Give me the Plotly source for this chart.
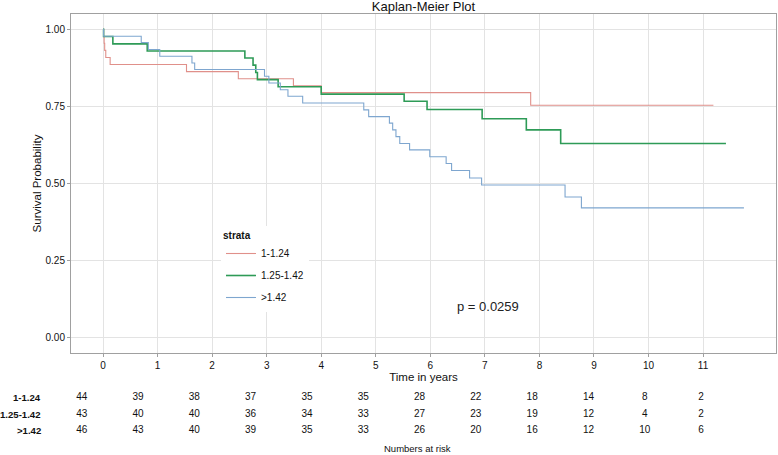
import plotly.graph_objects as go

# ---- data ----
strata = ["1-1.24", "1.25-1.42", ">1.42"]
colors = ["#E0908A", "#2E9B57", "#7EA6CF"]
widths = [1.1, 1.6, 1.1]

red_t = [0, 0.01, 0.02, 0.03, 0.05, 0.13, 1.53, 2.48, 3.49, 4.00, 7.84, 11.19]
red_s = [1.0, 0.977, 0.955, 0.932, 0.909, 0.886, 0.863, 0.840, 0.817, 0.795, 0.754, 0.754]

green_t = [0, 0.01, 0.18, 0.81, 2.60, 2.75, 2.80, 2.83, 3.21, 4.00, 5.52, 5.94, 6.95, 7.76, 8.39, 11.42]
green_s = [1.0, 0.977, 0.953, 0.930, 0.907, 0.884, 0.860, 0.837, 0.814, 0.790, 0.767, 0.740, 0.710, 0.674, 0.630, 0.630]

blue_t = [0, 0.01, 0.70, 0.83, 1.04, 1.63, 1.68, 2.96, 3.04, 3.25, 3.39, 3.66, 4.78, 4.87,
          5.25, 5.31, 5.37, 5.44, 5.62, 5.99, 6.29, 6.39, 6.72, 6.94, 8.47, 8.77, 11.75]
blue_s = [1.0, 0.978, 0.957, 0.935, 0.913, 0.891, 0.870, 0.848, 0.826, 0.804, 0.783, 0.761, 0.739, 0.717,
          0.696, 0.674, 0.652, 0.630, 0.609, 0.587, 0.565, 0.542, 0.518, 0.495, 0.456, 0.421, 0.421]

risk_times = list(range(12))
risk_1 = [44, 39, 38, 37, 35, 35, 28, 22, 18, 14, 8, 2]
risk_2 = [43, 40, 40, 36, 34, 33, 27, 23, 19, 12, 4, 2]
risk_3 = [46, 43, 40, 39, 35, 33, 26, 20, 16, 12, 10, 6]

p_text = "p = 0.0259"
p_x, p_y = 7.05, 0.10

curves = [(red_t, red_s), (green_t, green_s), (blue_t, blue_s)]
risks = [risk_1, risk_2, risk_3]

# ---- figure ----
W, H = 778, 455
ml, mr, mt, mb = 71, 2, 14, 2
pw = W - ml - mr
ph = H - mt - mb
main_bottom = (453 - 353) / ph

fig = go.Figure()
for i, (name, (t, s)) in enumerate(zip(strata, curves)):
    fig.add_trace(go.Scatter(
        x=t, y=s, mode="lines", line=dict(shape="hv", color=colors[i], width=widths[i]),
        name=name, legendgroup=name, xaxis="x", yaxis="y",
    ))

rows = [3, 2, 1]
for i, name in enumerate(strata):
    fig.add_trace(go.Scatter(
        x=risk_times, y=[rows[i]] * len(risk_times), mode="text",
        text=[str(v) for v in risks[i]], textfont=dict(size=10, color="#111111"),
        showlegend=False, xaxis="x2", yaxis="y2", hoverinfo="skip",
    ))

annotations = []
for i, name in enumerate(strata):
    annotations.append(dict(
        text="<b>%s</b>" % name, xref="paper", yref="y2", x=(42.5 - ml) / pw, y=rows[i],
        xanchor="right", yanchor="middle", showarrow=False, font=dict(size=9.6, color="#111111"),
    ))
annotations.append(dict(
    text=p_text, xref="x", yref="y", x=p_x, y=p_y, showarrow=False,
    font=dict(size=13, color="#222222"), xanchor="center", yanchor="middle",
))
annotations.append(dict(
    text="Numbers at risk", xref="paper", yref="paper", x=(417.5 - ml) / pw,
    y=(453 - 448.3) / ph, showarrow=False, font=dict(size=9.5, color="#111111"),
    xanchor="center", yanchor="middle",
))

fig.update_layout(
    width=W, height=H,
    margin=dict(l=ml, r=mr, t=mt, b=mb),
    paper_bgcolor="white", plot_bgcolor="white",
    font=dict(family="Liberation Sans, Arial, sans-serif", color="#111111"),
    title=dict(text="Kaplan-Meier Plot", x=423.5 / W, xanchor="center",
               y=1 - 6.5 / H, yanchor="middle", yref="container",
               font=dict(size=13, color="#111111")),
    xaxis=dict(
        domain=[0, 1], anchor="y", range=[-0.5875, 12.3375],
        tickmode="array", tickvals=list(range(12)), ticktext=[str(v) for v in range(12)],
        showgrid=True, gridcolor="#E3E3E3", gridwidth=1, zeroline=False,
        showline=True, mirror=True, linecolor="#A0A0A0", linewidth=1,
        ticks="outside", ticklen=3, tickcolor="#A0A0A0",
        tickfont=dict(size=10, color="#111111"),
        title=dict(text="Time in years", font=dict(size=11.5, color="#111111"), standoff=2),
    ),
    yaxis=dict(
        domain=[main_bottom, 1], anchor="x", range=[-0.05, 1.05],
        tickmode="array", tickvals=[0, 0.25, 0.5, 0.75, 1.0],
        ticktext=["0.00", "0.25", "0.50", "0.75", "1.00"],
        showgrid=True, gridcolor="#E3E3E3", gridwidth=1, zeroline=False,
        showline=True, mirror=True, linecolor="#A0A0A0", linewidth=1,
        ticks="outside", ticklen=3, tickcolor="#A0A0A0",
        tickfont=dict(size=10, color="#111111"),
        title=dict(text="Survival Probability", font=dict(size=11.5, color="#111111"), standoff=1),
    ),
    xaxis2=dict(domain=[0, 1], anchor="y2", range=[-0.19, 12.33], visible=False),
    yaxis2=dict(domain=[0, main_bottom - 0.001], anchor="x2", range=[-0.335, 5.65], visible=False),
    showlegend=True,
    legend=dict(
        x=(221 - ml) / pw, y=1 - (226 - mt) / ph, xanchor="left", yanchor="top",
        bgcolor="white", borderwidth=0, tracegroupgap=3,
        font=dict(size=10, color="#111111"),
        title=dict(text="<b>strata</b>", font=dict(size=10, color="#111111")),
        itemwidth=30,
    ),
    annotations=annotations,
)

fig.write_html(
    "out.html",
    config={"displayModeBar": False},
    post_script="document.body.style.margin='0';document.body.style.padding='0';document.body.style.overflow='hidden';",
)
